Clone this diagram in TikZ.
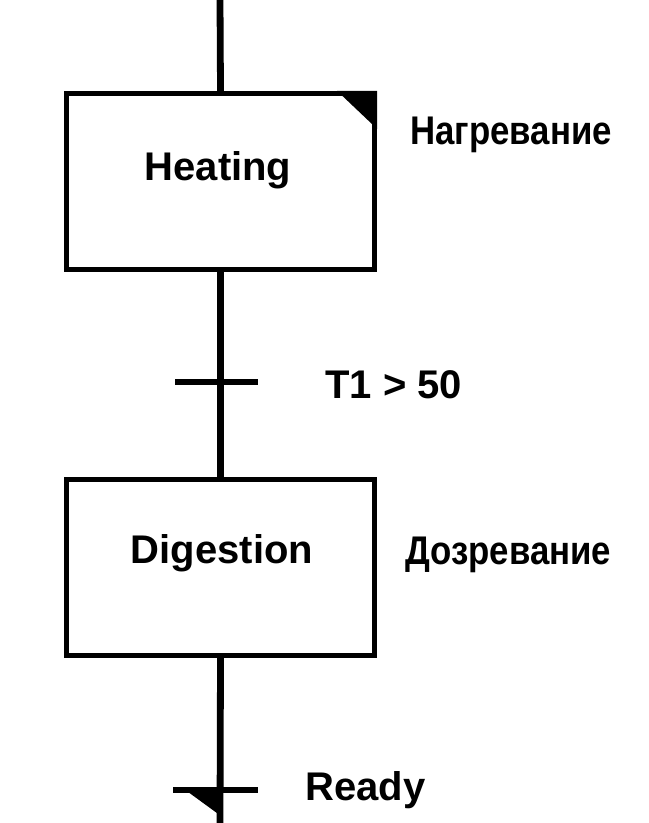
\documentclass[tikz,border=0pt]{standalone}
\usepackage{fontspec}
\setmainfont{Liberation Sans}
\begin{document}
\begin{tikzpicture}[x=0.5pt,y=-0.5pt,
  stepbox/.style={draw,line width=2.6pt,minimum width=154pt,minimum height=88pt,inner sep=0pt},
  lbl/.style={font=\fontsize{20}{24}\selectfont\bfseries,inner sep=0pt},
  narrow/.style={xscale=0.87},
  wire/.style={line width=3.4pt},
  bar/.style={line width=2.6pt}]
\useasboundingbox (0,0) rectangle (648,823);
\coordinate (top) at (220,0);
\node[stepbox] (s1) at (220.5,181.5) {};
\node[lbl] (t1) at (218,170) {Heating};
\node[lbl,narrow,anchor=west] (r1) at (410,135) {Нагревание};
\node[stepbox] (s2) at (220.5,567.5) {};
\node[lbl] (t2) at (222,553) {Digestion};
\node[lbl,narrow,anchor=west] (r2) at (405,555) {Дозревание};
\coordinate (bot) at (220,823);
\coordinate (tr1l) at (175,382);
\coordinate (tr1r) at (258,382);
\node[lbl,anchor=west] (c1) at (325,385) {T1 > 50};
\coordinate (tr2l) at (173,790);
\coordinate (tr2r) at (258,790);
\node[lbl,anchor=west] (c2) at (305,790) {Ready};
\draw[wire] (top) -- (s1.north);
\draw[wire] (s1.south) -- (s2.north);
\draw[wire] (s2.south) -- (bot);
\draw[bar] (tr1l) -- (tr1r);
\draw[bar] (tr2l) -- (tr2r);
\fill ([xshift=-20pt]s1.north east) -- (s1.north east) -- ([yshift=-19pt]s1.north east) -- cycle;
\fill (184,789) -- (221,789) -- (221,816) -- cycle;
\end{tikzpicture}
\end{document}
